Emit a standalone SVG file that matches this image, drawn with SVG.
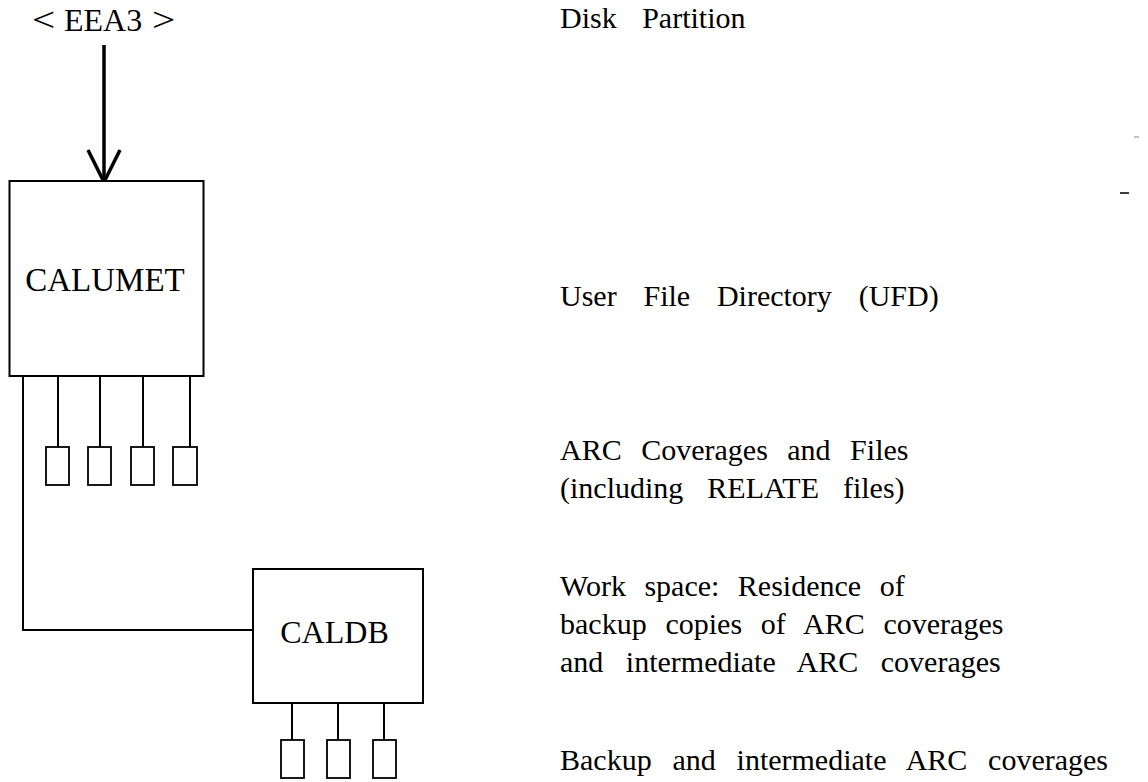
<svg xmlns="http://www.w3.org/2000/svg" width="1148" height="782" viewBox="0 0 1148 782">
<style>
  .bx{fill:#fff;stroke:#000;stroke-width:2}
  .sb{fill:#fff;stroke:#000;stroke-width:1.8}
  .ln{fill:none;stroke:#000;stroke-width:2}
  .t{font-family:"Liberation Serif","Times New Roman",serif;fill:#000}
  .r{font-size:30px}
  .ang{font-size:33px}
</style>
<rect width="1148" height="782" fill="#fff"/>
<g id="connectors">
  <line class="ln" x1="104" y1="45" x2="104" y2="180" style="stroke-width:3.5"/>
  <polyline class="ln" points="88,150 104,182 120,150" style="stroke-width:3.5"/>
  <polyline class="ln" points="23,376 23,630 253,630"/>
  <line class="ln" x1="58" y1="376" x2="58" y2="447"/>
  <line class="ln" x1="100" y1="376" x2="100" y2="447"/>
  <line class="ln" x1="143" y1="376" x2="143" y2="447"/>
  <line class="ln" x1="190" y1="376" x2="190" y2="447"/>
  <line class="ln" x1="292" y1="703" x2="292" y2="740"/>
  <line class="ln" x1="338" y1="703" x2="338" y2="740"/>
  <line class="ln" x1="384" y1="703" x2="384" y2="740"/>
</g>
<g id="eea3">
  <text class="t ang" transform="translate(32,31) scale(1.25,1)">&lt;</text>
  <text class="t" x="64" y="31" style="font-size:32px">EEA3</text>
  <text class="t ang" transform="translate(152,31) scale(1.25,1)">&gt;</text>
</g>
<g id="calumet">
  <rect class="bx" x="9.5" y="181" width="194" height="195"/>
  <text class="t" x="105" y="291" text-anchor="middle" style="font-size:33px">CALUMET</text>
</g>
<g id="calumet-files">
  <rect class="sb" x="46" y="447" width="23" height="38"/>
  <rect class="sb" x="88" y="447" width="23" height="38"/>
  <rect class="sb" x="131" y="447" width="23" height="38"/>
  <rect class="sb" x="173" y="447" width="24" height="38"/>
</g>
<g id="caldb">
  <rect class="bx" x="253" y="569" width="170" height="134"/>
  <text class="t" x="334.5" y="643" text-anchor="middle" style="font-size:32px">CALDB</text>
</g>
<g id="caldb-files">
  <rect class="sb" x="281" y="740" width="23" height="38"/>
  <rect class="sb" x="327" y="740" width="23" height="38"/>
  <rect class="sb" x="373" y="740" width="23" height="38"/>
</g>
<g id="labels">
  <text class="t r" x="560" y="28" style="word-spacing:18px">Disk Partition</text>
  <text class="t r" x="560" y="306" style="word-spacing:19.3px">User File Directory (UFD)</text>
  <text class="t r" x="560" y="460" style="word-spacing:12px">ARC Coverages and Files</text>
  <text class="t r" x="560" y="498" style="word-spacing:16.5px">(including RELATE files)</text>
  <text class="t r" x="560" y="596" style="word-spacing:11px">Work space: Residence of</text>
  <text class="t r" x="560" y="634" style="word-spacing:11.3px">backup copies of ARC coverages</text>
  <text class="t r" x="560" y="672" style="word-spacing:15px">and intermediate ARC coverages</text>
  <text class="t r" x="560" y="770" style="word-spacing:13.3px">Backup and intermediate ARC coverages</text>
</g>
<g id="marks">
  <line x1="1134" y1="137" x2="1139" y2="137" stroke="#888" stroke-width="1"/>
  <line x1="1120" y1="193" x2="1129" y2="193" stroke="#000" stroke-width="1.5"/>
</g>
</svg>
